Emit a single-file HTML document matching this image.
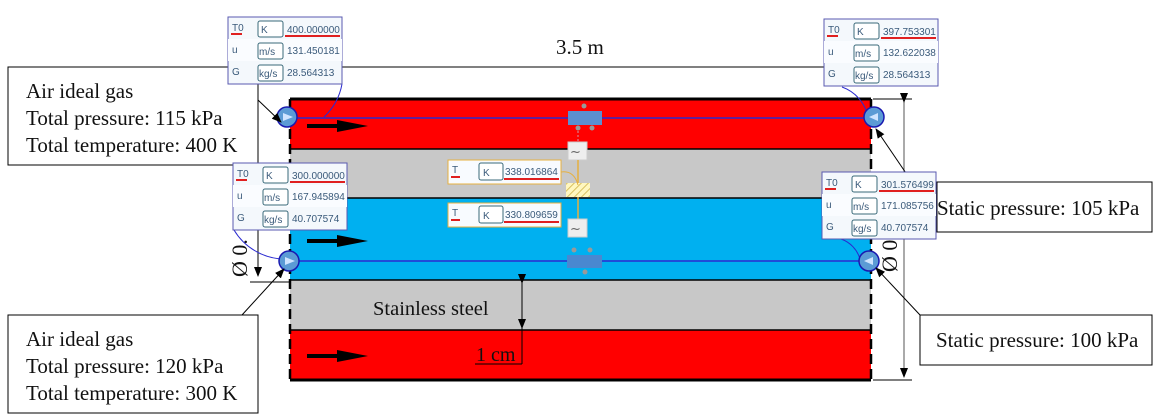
<!DOCTYPE html>
<html><head><meta charset="utf-8"><style>
html,body{margin:0;padding:0;background:#fff;}
svg{display:block;}
.serif{font-family:"Liberation Serif",serif;fill:#111;}
.ui{font-family:"Liberation Sans","DejaVu Sans",sans-serif;font-size:10px;fill:#3a5a7a;}
</style></head><body>
<svg width="1162" height="420" viewBox="0 0 1162 420" xmlns="http://www.w3.org/2000/svg">
<defs>
<marker id="ah" markerWidth="10" markerHeight="8" refX="9" refY="4" orient="auto" markerUnits="userSpaceOnUse"><path d="M0,0 L10,4 L0,8 z" fill="#000"/></marker>
<pattern id="hatch" width="5" height="5" patternUnits="userSpaceOnUse" patternTransform="rotate(45)"><rect width="5" height="5" fill="#fff7c0"/><line x1="0" y1="0" x2="0" y2="5" stroke="#d8c060" stroke-width="2"/></pattern>
</defs>
<rect x="290" y="99" width="581" height="50" fill="#ff0000"/>
<rect x="290" y="149" width="581" height="49" fill="#c8c8c8"/>
<rect x="290" y="198" width="581" height="82" fill="#00b0f0"/>
<rect x="290" y="280" width="581" height="50" fill="#c8c8c8"/>
<rect x="290" y="330" width="581" height="50" fill="#ff0000"/>
<g stroke="#000" stroke-width="1.5">
<line x1="290" y1="99" x2="871" y2="99" stroke-width="3"/>
<line x1="290" y1="149" x2="871" y2="149"/>
<line x1="290" y1="198" x2="871" y2="198"/>
<line x1="290" y1="280" x2="871" y2="280"/>
<line x1="290" y1="330" x2="871" y2="330"/>
<line x1="290" y1="380" x2="871" y2="380" stroke-width="3"/>
<line x1="290" y1="99" x2="290" y2="380" stroke-dasharray="10,5" stroke-width="2.5"/>
<line x1="871" y1="99" x2="871" y2="380" stroke-dasharray="10,5" stroke-width="2.5"/>
</g>
<g stroke="#000" stroke-width="4">
<line x1="307" y1="126" x2="340" y2="126"/><line x1="307" y1="241" x2="340" y2="241"/><line x1="307" y1="356" x2="340" y2="356"/>
</g>
<path d="M337,120 L368,126 L337,132z M337,235 L368,241 L337,247z M337,350 L368,356 L337,362z" fill="#000"/>
<line x1="258" y1="67" x2="824" y2="67" stroke="#000"/>
<text class="serif" x="556" y="54" font-size="21">3.5 m</text>
<line x1="873" y1="99" x2="912" y2="99" stroke="#000"/>
<line x1="873" y1="380" x2="912" y2="380" stroke="#000"/>
<line x1="904" y1="102" x2="904" y2="377" stroke="#555" marker-start="url(#ah)" marker-end="url(#ah)"/>
<text class="serif" font-size="22" transform="translate(897,272) rotate(-90)">Ø 0.</text>
<line x1="258" y1="84" x2="258" y2="276" stroke="#000" marker-end="url(#ah)"/>
<line x1="250" y1="282" x2="290" y2="282" stroke="#000"/>
<text class="serif" font-size="22" transform="translate(247,277) rotate(-90)">Ø 0.</text>
<line x1="522" y1="283" x2="522" y2="328" stroke="#000" marker-start="url(#ah)" marker-end="url(#ah)"/>
<line x1="522" y1="328" x2="522" y2="364" stroke="#000"/>
<line x1="475" y1="364" x2="522" y2="364" stroke="#000"/>
<text class="serif" x="476" y="361" font-size="20">1 cm</text>
<text class="serif" x="373" y="315" font-size="20.5">Stainless steel</text>
<g stroke="#2a2ad0" stroke-width="1.5">
<line x1="297" y1="118" x2="868" y2="118"/>
<line x1="297" y1="261" x2="864" y2="261"/>
</g>
<path d="M324,117 A60,60 0 0 0 342,84" stroke="#2a2ad0" fill="none"/>
<path d="M234,230 A60,60 0 0 0 289,259" stroke="#2a2ad0" fill="none"/>
<path d="M842,87 A40,40 0 0 1 868,117" stroke="#2a2ad0" fill="none"/>
<path d="M841,239 A30,30 0 0 1 860,259" stroke="#2a2ad0" fill="none"/>
<rect x="568" y="111" width="34" height="14" fill="#5b8fd0"/>
<circle cx="584" cy="106" r="2.5" fill="#999"/><circle cx="578" cy="128" r="2.5" fill="#999"/><circle cx="592" cy="128" r="2.5" fill="#999"/>
<line x1="578" y1="131" x2="578" y2="142" stroke="#c9a" stroke-dasharray="2,2"/>
<rect x="568" y="142" width="19" height="18" fill="#eee" stroke="#ccc"/>
<text x="570" y="156" font-size="13" fill="#666" font-family="DejaVu Sans">~</text>
<line x1="578" y1="160" x2="578" y2="219" stroke="#e6b040" stroke-width="1.5"/>
<rect x="566" y="183" width="24" height="14" fill="url(#hatch)"/>
<path d="M561,172 Q574,170 578,185" stroke="#e6b040" fill="none"/>
<rect x="568" y="219" width="19" height="18" fill="#eee" stroke="#ccc"/>
<text x="570" y="233" font-size="13" fill="#666" font-family="DejaVu Sans">~</text>
<rect x="567" y="255" width="35" height="13" fill="#4a88d0"/>
<circle cx="574" cy="250" r="2.5" fill="#999"/><circle cx="590" cy="250" r="2.5" fill="#999"/><circle cx="585" cy="272" r="2.5" fill="#999"/>
<g stroke="#1a1ab0" stroke-width="1.5" fill="#5b9bd5">
<circle cx="287" cy="117" r="10"/><circle cx="289" cy="261" r="10"/>
<circle cx="874" cy="117" r="10"/><circle cx="869" cy="261" r="10"/>
</g>
<g fill="#cfe4ff"><path d="M283,113 L293,117 L283,121z"/><path d="M285,257 L295,261 L285,265z"/><path d="M878,113 L869,117 L878,121z"/><path d="M873,257 L864,261 L873,265z"/></g>
<g stroke="#000" fill="none">
<line x1="258" y1="100" x2="281" y2="122" marker-end="url(#ah)"/>
<line x1="242" y1="315" x2="284" y2="269" marker-end="url(#ah)"/>
<line x1="912" y1="182" x2="876" y2="129" marker-end="url(#ah)"/>
<line x1="920" y1="315" x2="876" y2="268" marker-end="url(#ah)"/>
</g>
<g stroke="#000" fill="#fff">
<rect x="8" y="67" width="250" height="98"/><rect x="8" y="315" width="250" height="98"/>
<rect x="937" y="182" width="215" height="50"/><rect x="920" y="315" width="232" height="50"/>
</g>
<g class="serif" font-size="21">
<text x="26" y="98">Air ideal gas</text><text x="26" y="125">Total pressure: 115 kPa</text><text x="26" y="152">Total temperature: 400 K</text>
<text x="26" y="346">Air ideal gas</text><text x="26" y="373">Total pressure: 120 kPa</text><text x="26" y="400">Total temperature: 300 K</text>
<text x="937" y="215">Static pressure: 105 kPa</text><text x="936" y="347">Static pressure: 100 kPa</text>
</g>
<g id="t1" transform="translate(228,17)">
<rect width="114" height="67" fill="#f4f8fc" stroke="#5a5ab0"/>
<rect y="22" width="114" height="22" fill="#fafcff"/>
<text class="ui" x="4" y="14">T0</text><line x1="3" y1="17" x2="14" y2="17" stroke="#e02020" stroke-width="2"/>
<text class="ui" x="4" y="36">u</text><text class="ui" x="4" y="58">G</text>
<rect x="30" y="4" width="25" height="16" rx="2" fill="#fff" stroke="#3a6a7a"/><text class="ui" x="33" y="16">K</text>
<rect x="30" y="26" width="25" height="16" rx="2" fill="#fff" stroke="#3a6a7a"/><text class="ui" x="31" y="38">m/s</text>
<rect x="30" y="48" width="25" height="16" rx="2" fill="#fff" stroke="#3a6a7a"/><text class="ui" x="31" y="60">kg/s</text>
</g>
<g class="ui">
<text x="287" y="33">400.000000</text><text x="287" y="54">131.450181</text><text x="287" y="76">28.564313</text>
</g>
<line x1="285" y1="36" x2="340" y2="36" stroke="#e02020" stroke-width="2"/>
<use href="#t1" x="5" y="146"/>
<g class="ui"><text x="292" y="179">300.000000</text><text x="292" y="200">167.945894</text><text x="292" y="222">40.707574</text></g>
<line x1="290" y1="182" x2="345" y2="182" stroke="#e02020" stroke-width="2"/>
<use href="#t1" x="596" y="2"/>
<g class="ui"><text x="883" y="35">397.753301</text><text x="883" y="56">132.622038</text><text x="883" y="78">28.564313</text></g>
<line x1="881" y1="38" x2="936" y2="38" stroke="#e02020" stroke-width="2"/>
<use href="#t1" x="594" y="155"/>
<g class="ui"><text x="881" y="188">301.576499</text><text x="881" y="209">171.085756</text><text x="881" y="231">40.707574</text></g>
<line x1="879" y1="191" x2="934" y2="191" stroke="#e02020" stroke-width="2"/>
<g>
<rect x="448" y="160" width="113" height="24" fill="#f8fbff" stroke="#e6b040"/>
<text class="ui" x="452" y="173">T</text><line x1="451" y1="177" x2="460" y2="177" stroke="#e02020" stroke-width="2"/>
<rect x="479" y="163" width="24" height="17" rx="2" fill="#fff" stroke="#3a6a7a"/><text class="ui" x="483" y="176">K</text>
<text class="ui" x="505" y="175">338.016864</text><line x1="504" y1="179" x2="559" y2="179" stroke="#e02020" stroke-width="2"/>
<rect x="448" y="203" width="113" height="24" fill="#f8fbff" stroke="#e6b040"/>
<text class="ui" x="452" y="216">T</text><line x1="451" y1="220" x2="460" y2="220" stroke="#e02020" stroke-width="2"/>
<rect x="479" y="206" width="24" height="17" rx="2" fill="#fff" stroke="#3a6a7a"/><text class="ui" x="483" y="219">K</text>
<text class="ui" x="505" y="218">330.809659</text><line x1="504" y1="222" x2="559" y2="222" stroke="#e02020" stroke-width="2"/>
</g>
</svg>
</body></html>
